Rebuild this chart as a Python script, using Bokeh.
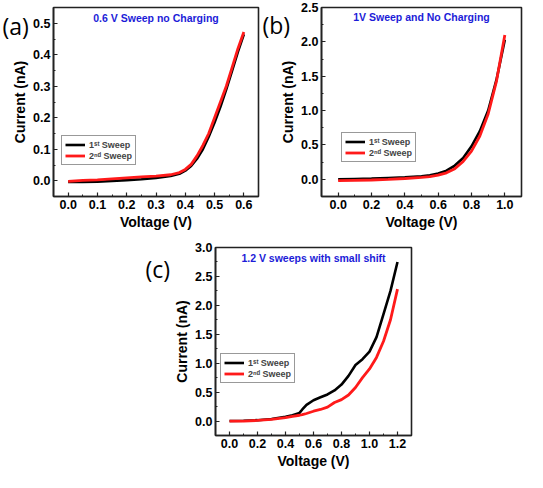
from bokeh.plotting import figure
from bokeh.layouts import column, row
from bokeh.models import (Range1d, FixedTicker, Label, Legend, LegendItem,
                          CustomJSTickFormatter, Spacer)
from bokeh.embed import file_html
from bokeh.resources import INLINE

# ---- panel (a): 0.6 V sweep ----
volt_a = [0.0, 0.05, 0.1, 0.15, 0.2, 0.25, 0.3, 0.35, 0.38, 0.4, 0.42, 0.44, 0.46, 0.48, 0.5, 0.52, 0.54, 0.56, 0.58, 0.6]
cur_a1 = [-0.004, -0.004, -0.003, -0.001, 0.002, 0.005, 0.009, 0.015, 0.022, 0.032, 0.047, 0.07, 0.1, 0.14, 0.185, 0.235, 0.29, 0.35, 0.41, 0.465]
cur_a2 = [-0.002, 0.001, 0.003, 0.006, 0.009, 0.012, 0.015, 0.019, 0.026, 0.036, 0.052, 0.079, 0.112, 0.15, 0.2, 0.25, 0.3, 0.36, 0.42, 0.472]
xticks_a = [0.0, 0.1, 0.2, 0.3, 0.4, 0.5, 0.6]
yticks_a = [0.0, 0.1, 0.2, 0.3, 0.4, 0.5]

# ---- panel (b): 1 V sweep ----
volt_b = [0.0, 0.1, 0.2, 0.3, 0.4, 0.5, 0.55, 0.6, 0.65, 0.7, 0.75, 0.8, 0.85, 0.9, 0.95, 1.0]
cur_b1 = [0.0, 0.005, 0.01, 0.02, 0.03, 0.045, 0.06, 0.085, 0.125, 0.2, 0.31, 0.48, 0.7, 1.0, 1.45, 2.03]
cur_b2 = [-0.02, -0.015, -0.01, 0.0, 0.012, 0.028, 0.04, 0.06, 0.095, 0.155, 0.26, 0.41, 0.63, 0.95, 1.43, 2.1]
xticks_b = [0.0, 0.2, 0.4, 0.6, 0.8, 1.0]
yticks_b = [0.0, 0.5, 1.0, 1.5, 2.0, 2.5]

# ---- panel (c): 1.2 V sweeps ----
volt_c = [0.0, 0.1, 0.2, 0.3, 0.4, 0.45, 0.5, 0.52, 0.55, 0.6, 0.65, 0.7, 0.75, 0.8, 0.85, 0.9, 0.95, 1.0, 1.05, 1.1, 1.15, 1.2]
cur_c1 = [0.0, 0.005, 0.015, 0.035, 0.075, 0.1, 0.14, 0.2, 0.28, 0.36, 0.41, 0.46, 0.53, 0.63, 0.78, 0.97, 1.07, 1.2, 1.45, 1.85, 2.25, 2.75]
cur_c2 = [0.0, 0.0, 0.01, 0.03, 0.06, 0.08, 0.1, 0.11, 0.13, 0.17, 0.2, 0.24, 0.32, 0.37, 0.45, 0.58, 0.75, 0.9, 1.1, 1.38, 1.75, 2.28]
xticks_c = [0.0, 0.2, 0.4, 0.6, 0.8, 1.0, 1.2]
yticks_c = [0.0, 0.5, 1.0, 1.5, 2.0, 2.5, 3.0]

titles = ["0.6 V Sweep no Charging", "1V Sweep and No Charging", "1.2 V sweeps with small shift"]
panel_tags = ["(a)", "(b)", "(c)"]
series_names = ["1\u02e2\u1d57 Sweep", "2\u207f\u1d48 Sweep"]

FONT = "Liberation Sans"


def minor(ticks):
    step = ticks[1] - ticks[0]
    out = []
    t = ticks[0] - step
    while t <= ticks[-1] + step + 1e-9:
        out.append(round(t + step / 2, 6))
        t += step
    return out


def panel(v, c1, c2, xt, yt, xr, yr, title, borders, size, leg_loc, title_dy):
    w, h = size
    bl, br, bt, bb = borders
    p = figure(width=w, height=h, output_backend="svg", toolbar_location=None,
               x_range=Range1d(*xr), y_range=Range1d(*yr),
               min_border_left=bl, min_border_right=br, min_border_top=bt, min_border_bottom=bb)
    p.xgrid.visible = False
    p.ygrid.visible = False
    p.outline_line_color = "#222222"
    p.outline_line_width = 1.6
    p.outline_line_alpha = 1.0
    p.background_fill_color = "white"
    p.border_fill_color = "white"

    p.xaxis.ticker = FixedTicker(ticks=xt, minor_ticks=minor(xt))
    p.yaxis.ticker = FixedTicker(ticks=yt, minor_ticks=minor(yt))
    p.xaxis.axis_label = "Voltage (V)"
    p.yaxis.axis_label = "Current (nA)"
    for ax in (p.xaxis[0], p.yaxis[0]):
        ax.axis_line_color = "#222222"
        ax.axis_line_width = 1.6
        ax.major_tick_in = 4
        ax.major_tick_out = 0
        ax.minor_tick_in = 2
        ax.minor_tick_out = 0
        ax.major_tick_line_color = "#222222"
        ax.major_tick_line_width = 1.2
        ax.minor_tick_line_color = "#222222"
        ax.major_label_text_font = FONT
        ax.major_label_text_font_style = "bold"
        ax.major_label_text_font_size = "12.5px"
        ax.major_label_text_color = "black"
        ax.axis_label_text_font = FONT
        ax.axis_label_text_font_style = "bold"
        ax.axis_label_text_font_size = "14px"
        ax.axis_label_text_color = "black"
        ax.major_label_standoff = 3
        ax.axis_label_standoff = 2
    p.xaxis.formatter = CustomJSTickFormatter(code="return tick.toFixed(1);")
    p.yaxis.formatter = CustomJSTickFormatter(code="return tick.toFixed(1);")

    r1 = p.line(v, c1, line_color="black", line_width=2.6)
    r2 = p.line(v, c2, line_color="#ff1a1a", line_width=2.8)

    leg = Legend(items=[LegendItem(label=series_names[0], renderers=[r1]),
                        LegendItem(label=series_names[1], renderers=[r2])],
                 location=leg_loc, border_line_color="#333333", border_line_width=1,
                 background_fill_alpha=1.0, padding=3, spacing=0, margin=0,
                 glyph_width=20, glyph_height=11, label_height=11,
                 label_text_font=FONT, label_text_font_size="9px",
                 label_text_font_style="bold", label_standoff=4)
    p.add_layout(leg, "center")

    fh = h - bt - bb
    p.add_layout(Label(x=(xr[0] + xr[1]) / 2, y=fh - title_dy, x_units="data", y_units="screen",
                       text=title, text_align="center", text_baseline="middle",
                       text_font=FONT, text_font_style="bold", text_font_size="10.5px",
                       text_color="#1c1cd8"))
    return p


def tag_fig(tag, w, h, tx, ty_from_top):
    # small transparent figure holding the panel letter; data units == pixels
    t = figure(width=w, height=h, output_backend="svg", toolbar_location=None,
               x_range=Range1d(0, w), y_range=Range1d(0, h),
               x_axis_type=None, y_axis_type=None, min_border=0)
    t.grid.visible = False
    t.outline_line_color = None
    t.background_fill_alpha = 0
    t.border_fill_alpha = 0
    t.add_layout(Label(x=tx, y=h - ty_from_top, x_units="data", y_units="data", text=tag,
                       text_align="left", text_baseline="alphabetic",
                       text_font="Open Sans", text_font_size="23px", text_color="black"))
    return t


fa = panel(volt_a, cur_a1, cur_a2, xticks_a, yticks_a, (-0.05, 0.65), (-0.05, 0.55),
           titles[0], (53, 4, 7, 36), (262, 232), (8, 31), 10)
fb = panel(volt_b, cur_b1, cur_b2, xticks_b, yticks_b, (-0.1, 1.1), (-0.25, 2.5),
           titles[1], (59, 6, 7, 34), (265, 232), (20, 34), 11)
fc = panel(volt_c, cur_c1, cur_c2, xticks_c, yticks_c, (-0.1, 1.3), (-0.25, 3.0),
           titles[2], (89, 15, 15, 37), (300, 240), (5, 52), 10)

ta = tag_fig(panel_tags[0], 44, 46, 2, 25.5)
tb = tag_fig(panel_tags[1], 44, 46, 4, 24.5)
tc = tag_fig(panel_tags[2], 44, 54, 4, 36.5)

# tag rows are laid over the figures (negative top margin), taking no space of their own
tags_top = row(ta, Spacer(width=214, height=46), tb, margin=(-232, 0, 186, 0))
top = column(row(fa, fb), tags_top)
tags_bottom = row(Spacer(width=141, height=54), tc, margin=(-240, 0, 186, 0))
bottom = column(row(Spacer(width=126, height=240), fc), tags_bottom)
layout = column(top, bottom)
open("out.html", "w").write(file_html(layout, INLINE))
